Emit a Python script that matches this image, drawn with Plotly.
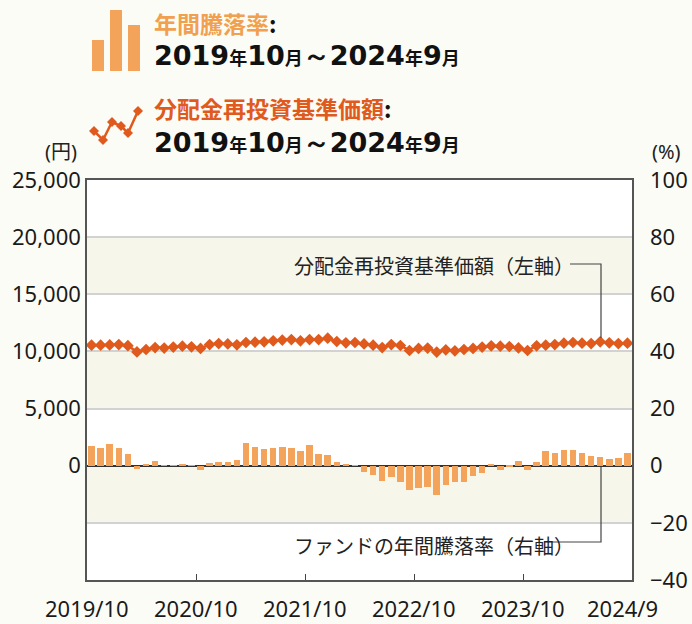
import plotly.graph_objects as go

# ---- data ----
months = [f"{2019 + (9 + i) // 12}/{(9 + i) % 12 + 1}" for i in range(60)]
nav = [10550, 10550, 10570, 10600, 10500, 9960, 10170, 10340, 10290, 10380,
       10460, 10400, 10260, 10600, 10690, 10660, 10580, 10780, 10810, 10840,
       10930, 10990, 11040, 10930, 11040, 11040, 11160, 10870, 10750, 10780,
       10660, 10550, 10340, 10600, 10520, 10080, 10260, 10290, 9940, 10140,
       10050, 10170, 10260, 10380, 10490, 10460, 10430, 10310, 10080, 10490,
       10550, 10600, 10720, 10780, 10720, 10690, 10840, 10750, 10690, 10720]
ret = [7.0, 6.3, 7.7, 6.3, 4.2, -1.3, 0.35, 1.7, 0.1, 0.05,
       0.35, 0.05, -1.6, 1.0, 1.4, 1.4, 2.1, 8.0, 6.6, 5.9,
       6.3, 6.6, 6.3, 5.2, 7.3, 4.2, 3.8, 1.4, 0.7, 0.05,
       -2.3, -3.4, -5.5, -4.1, -5.8, -8.6, -7.9, -7.6, -10.4, -6.9,
       -5.8, -5.8, -3.7, -2.7, 0.7, -1.6, -0.6, 1.7, -1.6, 1.4,
       5.2, 4.5, 5.6, 5.6, 4.5, 3.5, 3.1, 2.4, 2.8, 4.5]
x_tick_vals = [0, 12, 24, 36, 48, 60]
x_tick_text = ["2019/10", "2020/10", "2021/10", "2022/10", "2023/10", "2024/9"]
x_label_pos = [0, 12, 24, 36, 48, 59]
yl_vals = [-5000, 0, 5000, 10000, 15000, 20000, 25000]
yl_text = ["", "0", "5,000", "10,000", "15,000", "20,000", "25,000"]
yr_vals = [-40, -20, 0, 20, 40, 60, 80, 100]
yr_text = ["\u221240", "\u221220", "0", "20", "40", "60", "80", "100"]

BAR = "#F4A35A"
LINE = "#DF5A1C"
BAR_T = "#F0A04F"
BAND = "#F7F6EB"
PAPER = "#FCFCF6"

L, R, T, B = 87, 632, 180, 580
def px(x):
    return (x - L) / (R - L)
def py(y):
    return (B - y) / (B - T)

xs = [i + 0.5 for i in range(60)]

fig = go.Figure()
fig.add_trace(go.Bar(x=xs, y=ret, yaxis="y2", marker=dict(color=BAR, line=dict(width=0)),
                     width=0.72, name="年間騰落率", hovertext=months))
fig.add_trace(go.Scatter(x=xs, y=nav, yaxis="y", mode="lines+markers",
                         line=dict(color=LINE, width=2.5),
                         marker=dict(symbol="diamond", size=9, color=LINE),
                         name="分配金再投資基準価額", hovertext=months))

shapes = []
for y0, y1 in [(15000, 20000), (5000, 10000), (-5000, 0)]:
    shapes.append(dict(type="rect", xref="paper", yref="y", x0=0, x1=1, y0=y0, y1=y1,
                       fillcolor=BAND, line=dict(width=0), layer="below"))

def path(pts):
    return "M " + " L ".join(f"{px(a)},{py(b)}" for a, b in pts)
shapes.append(dict(type="path", xref="paper", yref="paper",
                   path=path([(570, 264), (601, 264), (601, 338)]),
                   line=dict(color="#444", width=1.2)))
shapes.append(dict(type="path", xref="paper", yref="paper",
                   path=path([(552, 542), (601, 542), (601, 467)]),
                   line=dict(color="#444", width=1.2)))

for x0, x1, y0 in [(92, 104, 40), (110, 122, 10), (128, 140, 25)]:
    shapes.append(dict(type="rect", xref="paper", yref="paper",
                       x0=px(x0), x1=px(x1), y0=py(71), y1=py(y0),
                       fillcolor=BAR, line=dict(width=0)))
icon = [(94, 131), (103, 140), (112, 122), (121, 126), (128, 133), (138, 111)]
shapes.append(dict(type="path", xref="paper", yref="paper", path=path(icon),
                   line=dict(color=LINE, width=2.5)))
for a, b in icon:
    d = 5
    shapes.append(dict(type="path", xref="paper", yref="paper",
                       path=path([(a, b - d), (a + d, b), (a, b + d), (a - d, b)]) + " Z",
                       fillcolor=LINE, line=dict(width=0)))

CJK = "Noto Sans CJK JP"
DIG = "DejaVu Sans"
def period():
    d = f'<span style="font-family:{DIG};font-size:27px">'
    k = f'<span style="font-family:{CJK};font-size:18px">'
    return (f"{d}2019</span>{k}年</span>{d}10</span>{k}月</span>"
            f"{d}～</span>{d}2024</span>{k}年</span>{d}9</span>{k}月</span>")

ann = []
def add(text, x, y, size, color="#111", family=CJK, xanchor="left"):
    ann.append(dict(text=text, x=px(x), y=py(y), xref="paper", yref="paper",
                    xanchor=xanchor, yanchor="middle", showarrow=False,
                    font=dict(size=size, color=color, family=family)))

add(f'<b><span style="color:{BAR_T}">年間騰落率</span>:</b>', 152, 23, 23)
add("<b>" + period() + "</b>", 152, 56, 27, family=DIG)
add(f'<b><span style="color:{LINE}">分配金再投資基準価額</span>:</b>', 152, 108, 23)
add("<b>" + period() + "</b>", 152, 142, 27, family=DIG)
add("分配金再投資基準価額（左軸）", 292, 265, 20, color="#222")
add("ファンドの年間騰落率（右軸）", 292, 545, 20, color="#222")
add("(円)", 79, 152, 20, color="#222", family="Noto Sans, " + CJK, xanchor="right")
add("(%)", 650, 152, 20, color="#222", family="Noto Sans", xanchor="left")

tickfont = dict(family="Noto Sans, " + CJK, size=22, color="#1a1a1a")
for v, t in zip(x_label_pos, x_tick_text):
    ann.append(dict(text=t, x=v, xref="x", y=py(608), yref="paper",
                    xanchor="center", yanchor="middle", showarrow=False, font=tickfont))

fig.update_layout(
    width=692, height=624,
    margin=dict(l=L, r=692 - R, t=T, b=624 - B, autoexpand=False),
    paper_bgcolor=PAPER, plot_bgcolor="white",
    showlegend=False, bargap=0,
    shapes=shapes, annotations=ann,
    xaxis=dict(range=[0, 60], tickvals=x_tick_vals, showticklabels=False,
               ticks="inside", ticklen=6, tickcolor="#444", showgrid=False,
               showline=True, linecolor="#555", linewidth=1.5, mirror=True,
               zeroline=False, automargin=False),
    yaxis=dict(range=[-10000, 25000], tickvals=yl_vals, ticktext=yl_text,
               showgrid=True, gridcolor="#D2D2D2", gridwidth=1.5,
               zeroline=True, zerolinecolor="#333", zerolinewidth=1.5,
               showline=True, linecolor="#555", linewidth=1.5, mirror=True,
               ticks="", tickfont=tickfont, automargin=False),
    yaxis2=dict(range=[-40, 100], tickvals=yr_vals, ticktext=yr_text,
                overlaying="y", side="right", showgrid=False, zeroline=False,
                showline=False, ticks="", tickfont=tickfont, ticklabelstandoff=17,
                automargin=False),
)
fig.write_html("out.html", config={"displayModeBar": False},
               post_script="document.body.style.margin='0';"
                           "document.body.style.background='#FCFCF6';")
